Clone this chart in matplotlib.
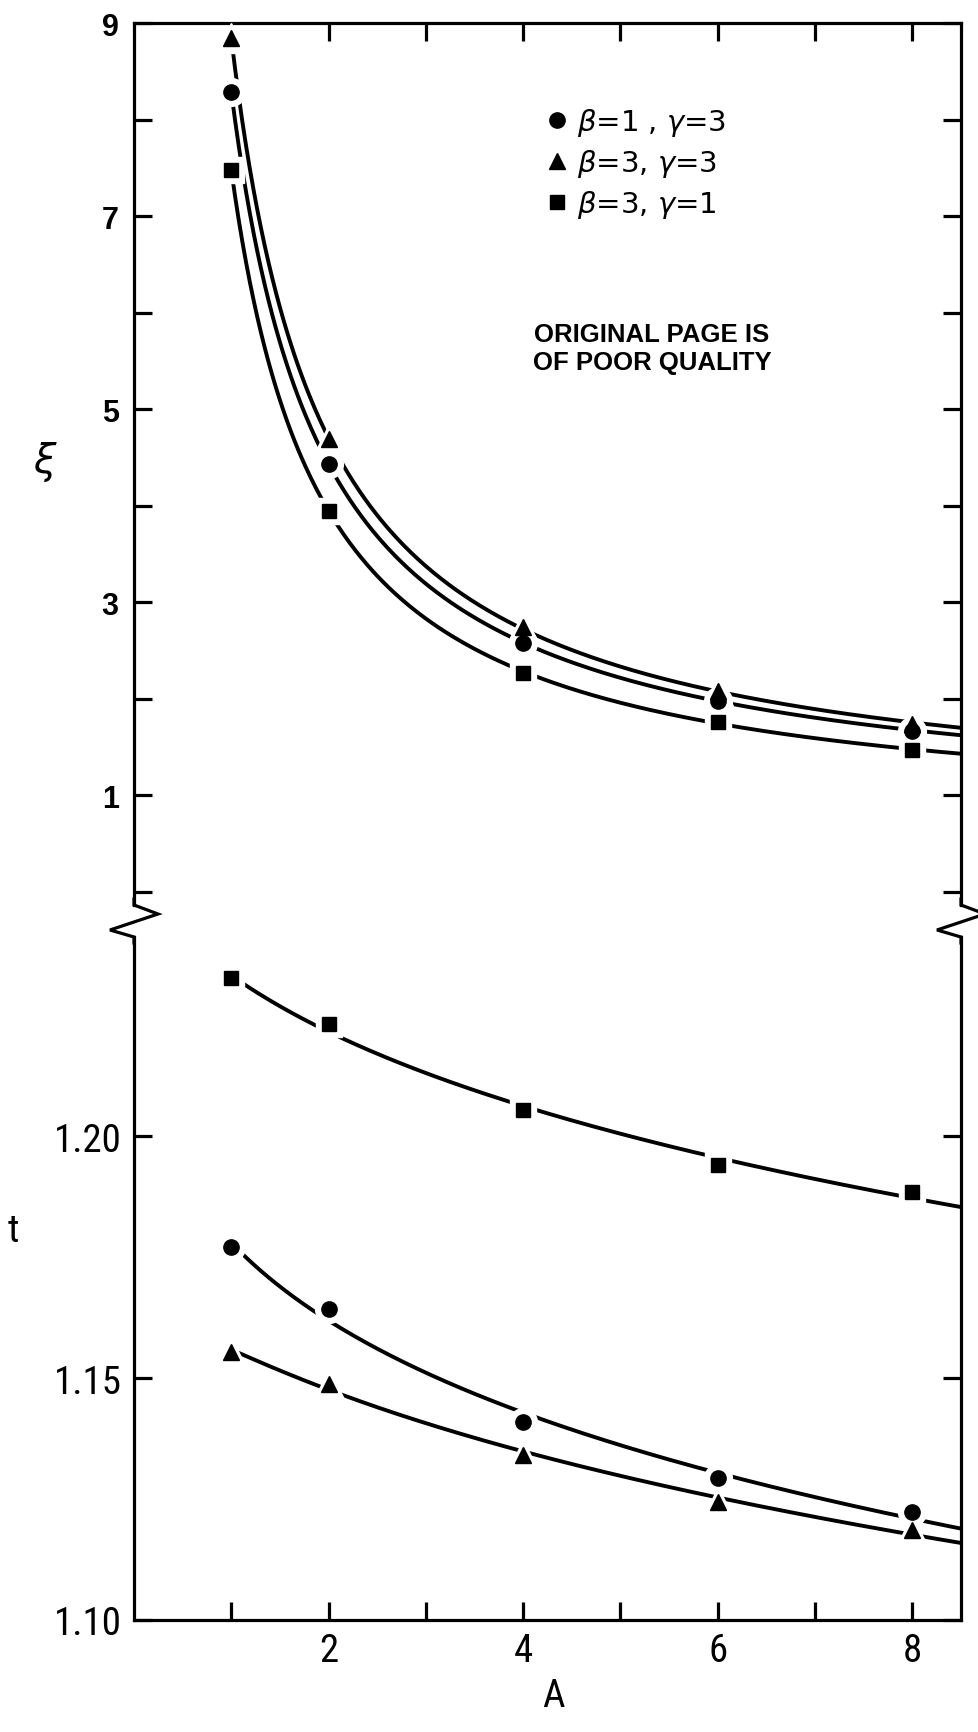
import numpy as np
import matplotlib
matplotlib.use("Agg")
import matplotlib.pyplot as plt
from matplotlib import font_manager
from matplotlib.lines import Line2D

# ---------------- data ----------------
A = np.array([1, 2, 4, 6, 8])
xi_b1g3 = [8.29, 4.43, 2.58, 1.98, 1.67]   # circles
xi_b3g3 = [8.85, 4.69, 2.74, 2.08, 1.74]   # triangles
xi_b3g1 = [7.48, 3.95, 2.27, 1.76, 1.47]   # squares
t_b1g3 = [1.1771, 1.1643, 1.1410, 1.1293, 1.1223]
t_b3g3 = [1.1554, 1.1488, 1.1341, 1.1244, 1.1185]
t_b3g1 = [1.2326, 1.2231, 1.2054, 1.1941, 1.1884]
series_labels = [r"$\beta$=1 , $\gamma$=3", r"$\beta$=3, $\gamma$=3", r"$\beta$=3, $\gamma$=1"]
xi_tick_labels = [1, 3, 5, 7, 9]
t_ticks = [1.10, 1.15, 1.20]
A_tick_labels = [2, 4, 6, 8]

# ---------------- fonts ----------------
names = {f.name for f in font_manager.fontManager.ttflist}
def cond_font(size):
    for n in ["Liberation Sans Narrow", "Roboto Condensed", "DejaVu Sans Condensed"]:
        if n in names:
            return dict(family=n, fontsize=size)
    for f in font_manager.fontManager.ttflist:
        if f.name == "DejaVu Sans" and str(f.stretch) in ("condensed", "semi-condensed"):
            return dict(family="DejaVu Sans", stretch="condensed", fontsize=size)
    return dict(family="DejaVu Sans", fontsize=size * 0.85)

plt.rcParams["mathtext.fontset"] = "dejavusans"

W, H = 979, 1733
fig = plt.figure(figsize=(W / 100, H / 100), dpi=100)
fig.patch.set_facecolor("white")

xL, xR = 134, 961
y_top, y_brk, y_bot = 24.3, 912, 1621
ax1 = fig.add_axes([xL / W, 1 - y_brk / H, (xR - xL) / W, (y_brk - y_top) / H])
ax2 = fig.add_axes([xL / W, 1 - y_bot / H, (xR - xL) / W, (y_bot - y_brk) / H])

LW = 2.3
for ax in (ax1, ax2):
    ax.set_xlim(0, 8.5)
    for s in ax.spines.values():
        s.set_linewidth(LW)
    ax.tick_params(direction="in", length=13, width=LW)

ax1.set_ylim(-0.2, 9)
ax2.set_ylim(1.10, 1.2465)
ax1.spines["bottom"].set_visible(False)
ax2.spines["top"].set_visible(False)
ax1.spines["left"].set_bounds(-0.138, 9)
ax1.spines["right"].set_bounds(-0.138, 9)
ax2.spines["left"].set_bounds(1.10, 1.2411)
ax2.spines["right"].set_bounds(1.10, 1.2411)

# upper axes ticks
ax1.set_xticks(range(1, 9))
ax1.tick_params(axis="x", bottom=False, top=True, labelbottom=False, labeltop=False)
ax1.set_yticks(range(0, 10))
ax1.set_yticklabels([str(v) if v in xi_tick_labels else "" for v in range(0, 10)])
ax1.tick_params(axis="y", left=True, right=True, labelleft=True, pad=11)
for lab in ax1.get_yticklabels():
    lab.set_fontfamily("Liberation Sans")
    lab.set_fontweight("bold")
    lab.set_fontsize(22)

# lower axes ticks
ax2.set_xticks(range(1, 9))
ax2.set_xticklabels([str(v) if v in A_tick_labels else "" for v in range(1, 9)])
ax2.tick_params(axis="x", bottom=True, top=False, pad=9)
ax2.set_yticks(t_ticks)
ax2.set_yticklabels([f"{v:.2f}" for v in t_ticks])
ax2.tick_params(axis="y", left=True, right=True, pad=9)
cf = cond_font(28)
for lab in ax2.get_yticklabels() + ax2.get_xticklabels():
    lab.set_fontfamily(cf["family"])
    lab.set_fontsize(cf["fontsize"])
    if "stretch" in cf:
        lab.set_fontstretch(cf["stretch"])

# ---------------- curves and markers ----------------
styles = [("o", 11), ("^", 12), ("s", 9.5)]
grid = np.linspace(1.0, 8.6, 400)

# upper panel: smooth fit in 1/A ; lower panel: smooth fit in ln A
for vals, (m, ms) in zip((xi_b1g3, xi_b3g3, xi_b3g1), styles):
    coef = np.polyfit(1.0 / A, vals, 2)
    ax1.plot(grid, np.polyval(coef, 1.0 / grid), color="black", lw=2.8, zorder=2,
             solid_capstyle="butt")
    ax1.plot(A, vals, ls="none", marker=m, ms=ms + 9, color="white", mec="white", zorder=3)
    ax1.plot(A, vals, ls="none", marker=m, ms=ms, color="black", mec="black", zorder=4)

for vals, (m, ms) in zip((t_b1g3, t_b3g3, t_b3g1), styles):
    coef = np.polyfit(np.log(A), vals, 2)
    ax2.plot(grid, np.polyval(coef, np.log(grid)), color="black", lw=2.8, zorder=2,
             solid_capstyle="butt")
    ax2.plot(A, vals, ls="none", marker=m, ms=ms + 9, color="white", mec="white", zorder=3)
    ax2.plot(A, vals, ls="none", marker=m, ms=ms, color="black", mec="black", zorder=4)

handles = [Line2D([], [], ls="none", marker=m, ms=ms, color="black") for (m, ms) in styles]
ax1.legend(handles, series_labels, loc="center left",
           bbox_to_anchor=(545 / W, 1 - 164 / H), bbox_transform=fig.transFigure,
           frameon=False, fontsize=21, handlelength=0.8, handletextpad=0.3,
           labelspacing=0.3, borderpad=0, borderaxespad=0)

fig.text(652 / W, 1 - 349 / H, "ORIGINAL PAGE IS\nOF POOR QUALITY", ha="center", va="center",
         family="Liberation Sans", fontweight="bold", fontsize=18.5, linespacing=1.2)

# ---------------- axis labels ----------------
fig.text(45 / W, 1 - 462 / H, r"$\xi$", ha="center", va="center", fontsize=29)
lf = cond_font(28)
fig.text(13 / W, 1 - 1232 / H, "t", ha="center", va="center", **lf)
fig.text(553 / W, 1 - 1697 / H, "A", ha="center", va="center", **lf)

# ---------------- axis break zigzags ----------------
for x0 in (xL, xR):
    px = [x0, x0, x0 + 24, x0 - 24, x0, x0]
    py = [900, 906, 915, 931, 938, 944]
    fig.add_artist(Line2D([p / W for p in px], [1 - p / H for p in py],
                          transform=fig.transFigure, color="black", lw=LW,
                          solid_joinstyle="miter"))

fig.savefig("out.png", dpi=100, facecolor="white")
